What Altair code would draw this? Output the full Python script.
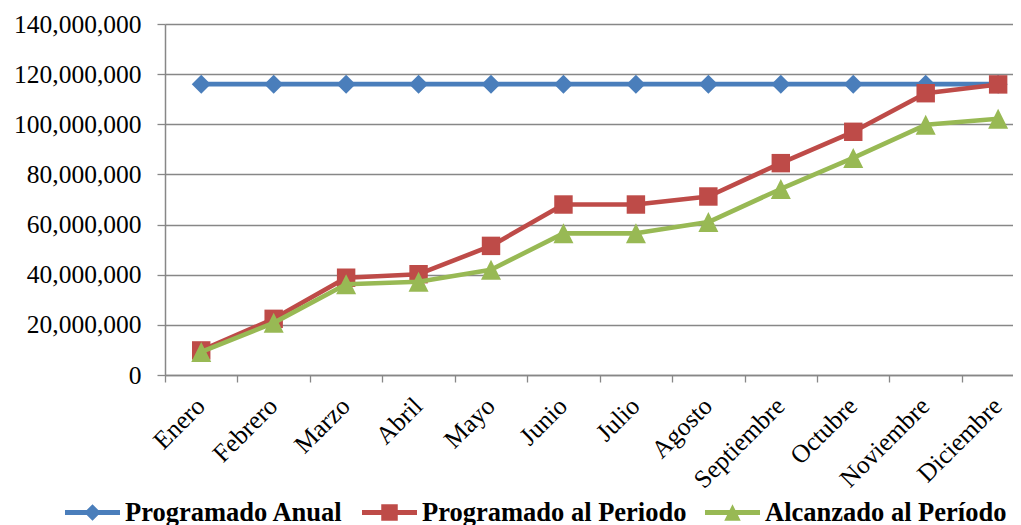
import altair as alt
import pandas as pd

months = ["Enero", "Febrero", "Marzo", "Abril", "Mayo", "Junio", "Julio",
          "Agosto", "Septiembre", "Octubre", "Noviembre", "Diciembre"]
programado_anual = [116.0e6, 116.0e6, 116.0e6, 116.0e6, 116.0e6, 116.0e6,
                    116.0e6, 116.0e6, 116.0e6, 116.0e6, 116.0e6, 116.0e6]
programado_periodo = [9.8e6, 22.4e6, 38.8e6, 40.2e6, 51.5e6, 68.0e6,
                      68.0e6, 71.2e6, 84.5e6, 97.0e6, 112.4e6, 115.9e6]
alcanzado_periodo = [9.2e6, 20.8e6, 36.2e6, 37.2e6, 42.0e6, 56.5e6,
                     56.5e6, 61.0e6, 74.2e6, 86.6e6, 99.8e6, 102.2e6]

series = ["Programado Anual", "Programado al Periodo", "Alcanzado al Período"]
colors = ["#4A7EBB", "#BE4B48", "#98B954"]
y_ticks = [0, 20e6, 40e6, 60e6, 80e6, 100e6, 120e6, 140e6]

marker_paths = ["M-1,0L0,-1L1,0L0,1Z",
                "M-1,-1H1V1H-1Z",
                "M0,-1L1,1L-1,1Z"]
marker_sizes = [361, 340, 400]
legend_paths = [
    "M-1,-0.09H1V0.09H-1Z M-0.3,0L0,-0.3L0.3,0L0,0.3Z",
    "M-1,-0.09H1V0.09H-1Z M-0.3,-0.3H0.3V0.3H-0.3Z",
    "M-1,-0.09H1V0.09H-1Z M0,-0.3L0.3,0.3L-0.3,0.3Z",
]

rows = []
for name, vals in zip(series, [programado_anual, programado_periodo, alcanzado_periodo]):
    for i, (m, v) in enumerate(zip(months, vals)):
        rows.append({"serie": name, "mes": m, "idx": i, "valor": v})
df = pd.DataFrame(rows)

GRAY = "#878787"
FONT = "Liberation Serif"

label_expr = "[" + ",".join("'%s'" % m for m in months) + "][round(datum.value + 0.5)]"

x_enc = alt.X(
    "idx:Q",
    scale=alt.Scale(domain=[-0.5, 11.205], nice=False, zero=False),
    axis=alt.Axis(
        values=[i - 0.5 for i in range(len(months))],
        labelExpr=label_expr,
        labelOffset=27,
        labelAngle=-45,
        labelAlign="right",
        labelBaseline="top",
        labelFont=FONT,
        labelFontSize=25.5,
        labelColor="black",
        labelOverlap=False,
        labelFlush=False,
        labelPadding=11,
        tickSize=7,
        tickColor=GRAY,
        tickWidth=1.3,
        domainColor=GRAY,
        domainWidth=1.5,
        grid=False,
        title=None,
    ),
)
y_enc = alt.Y(
    "valor:Q",
    scale=alt.Scale(domain=[0, 140e6], nice=False),
    axis=alt.Axis(
        values=y_ticks,
        format=",d",
        labelFont=FONT,
        labelFontSize=25.5,
        labelColor="black",
        labelPadding=16,
        tickSize=8,
        tickColor=GRAY,
        tickWidth=1.3,
        grid=True,
        gridColor=GRAY,
        gridWidth=1.3,
        domainColor=GRAY,
        domainWidth=1.5,
        title=None,
    ),
)

base = alt.Chart(df)
layers = []
for name, col, path, sz in zip(series, colors, marker_paths, marker_sizes):
    sub = base.transform_filter(alt.datum.serie == name)
    layers.append(sub.mark_line(color=col, strokeWidth=4.6, strokeJoin="round",
                                strokeCap="round").encode(x=x_enc, y=y_enc))
    layers.append(sub.mark_point(filled=True, shape=path, size=sz, color=col,
                                 opacity=1).encode(x=x_enc, y=y_enc))

leg = alt.Legend(
    orient="none", legendX=-100, legendY=461, direction="horizontal",
    symbolSize=3025, symbolStrokeWidth=0, symbolOpacity=1,
    labelFont=FONT, labelFontSize=26.5, labelFontWeight="bold", labelColor="black",
    labelOffset=5, columnPadding=18, padding=0, labelLimit=500, title=None,
)
carrier = base.transform_filter("false").mark_point(filled=True, opacity=1).encode(
    color=alt.Color("serie:N", scale=alt.Scale(domain=series, range=colors), legend=leg),
    shape=alt.Shape("serie:N", scale=alt.Scale(domain=series, range=legend_paths), legend=leg),
)
layers.append(carrier)

chart = alt.layer(*layers).properties(
    width=848, height=351,
    padding={"left": 157, "top": 16, "right": 0, "bottom": 150},
    autosize="none",
    background="white",
).configure_view(stroke=None)

chart.save("out.html", embed_options={"renderer": "svg", "actions": False})
